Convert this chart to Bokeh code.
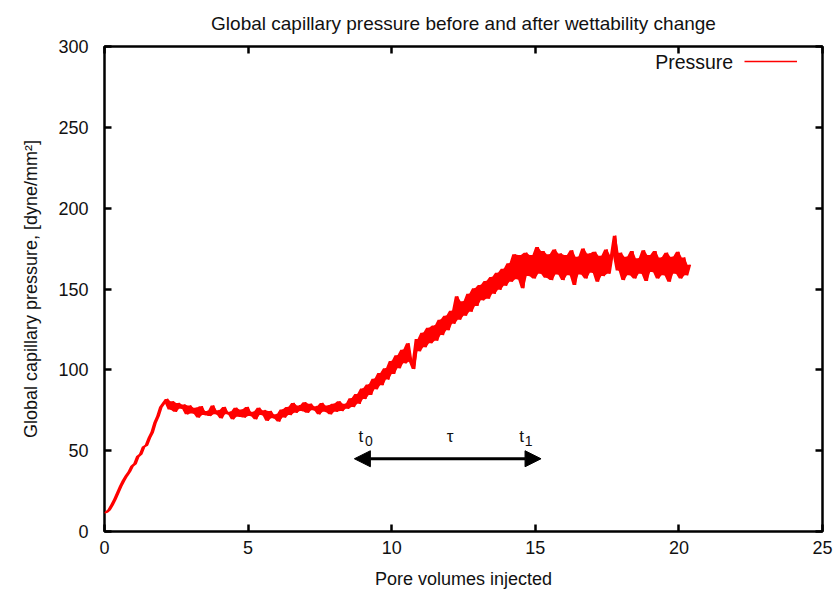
from bokeh.plotting import figure
from bokeh.models import (LinearAxis, Range1d, Arrow, NormalHead, Label, Legend,
                          LegendItem, FixedTicker, ColumnDataSource)
from bokeh.embed import file_html
from bokeh.resources import INLINE
from bokeh.core.properties import value

# ---------------- data ----------------
# global capillary pressure, sampled every 0.1 pore volume from 0.0 to 20.4
pressure = [
    11.5, 12.0, 13.5, 16.5, 20.0, 24.0, 28.0, 31.5, 34.5, 37.0,
    40.5, 42.0, 46.5, 48.0, 52.5, 53.5, 58.0, 61.5, 67.5, 71.5,
    77.0, 79.5, 82.0, 75.5, 80.5, 74.0, 79.5, 76.0, 78.5, 72.5,
    78.0, 73.0, 76.5, 70.5, 77.5, 72.0, 74.5, 71.5, 78.0, 72.5,
    75.0, 70.0, 77.0, 72.5, 74.0, 69.5, 76.5, 71.0, 75.5, 70.5,
    77.0, 71.5, 74.0, 69.5, 76.5, 72.0, 75.0, 68.5, 74.5, 70.0,
    72.5, 68.0, 75.5, 70.5, 77.0, 72.0, 79.5, 73.5, 78.0, 74.5,
    80.0, 73.5, 79.0, 75.0, 77.5, 72.5, 79.5, 74.0, 78.0, 72.5,
    79.0, 74.0, 80.5, 74.5, 79.0, 76.0, 82.5, 77.0, 85.0, 79.0,
    88.5, 82.0, 91.0, 84.5, 94.5, 88.0, 98.0, 90.5, 101.0, 94.0,
    105.5, 97.5, 109.0, 101.0, 112.5, 104.0, 116.5, 105.0, 100.5, 119.0,
    111.5, 123.0, 114.0, 126.0, 116.5, 127.5, 118.0, 131.0, 121.5, 133.5,
    124.5, 136.5, 128.5, 145.5, 131.0, 142.5, 133.5, 147.0, 136.0, 150.5,
    139.5, 152.5, 143.0, 155.0, 144.0, 157.5, 147.0, 160.0, 149.5, 162.5,
    152.0, 166.0, 154.5, 171.5, 156.0, 171.0, 150.5, 172.5, 158.0, 171.0,
    156.5, 176.0, 159.5, 173.5, 157.0, 171.5, 155.5, 174.5, 159.0, 172.0,
    155.5, 171.0, 158.5, 174.0, 152.5, 170.0, 159.0, 175.0, 156.5, 172.0,
    160.0, 173.0, 154.5, 170.5, 158.0, 174.5, 159.5, 171.0, 183.0, 161.5,
    172.5, 155.5, 170.0, 158.5, 173.5, 156.5, 169.0, 159.5, 174.0, 155.0,
    171.0, 160.5, 173.5, 156.5, 169.5, 158.5, 172.5, 154.5, 170.0, 159.5,
    173.0, 156.5, 169.5, 158.5, 165.0,
]
pore_volumes = [round(i * 0.1, 1) for i in range(len(pressure))]

x_ticks = [0, 5, 10, 15, 20, 25]
y_ticks = [0, 50, 100, 150, 200, 250, 300]

arrow_x = [8.7, 15.2]
arrow_y = 45

mark_text = ["t", "\u03c4", "t"]
mark_x = [8.93, 12.03, 14.52]
mark_y = [58.5, 58.5, 58.5]
sub_text = ["0", "1"]
sub_x = [9.21, 14.77]
sub_y = [55.8, 55.8]

legend_label = "Pressure"
legend_label_pos = (21.89, 290.7)

TITLE = "Global capillary pressure before and after wettability change"
XLABEL = "Pore volumes injected"
YLABEL = "Global capillary pressure, [dyne/mm\u00b2]"

FONT = "Liberation Sans"
TXT = "#111111"

# noise band: span between consecutive samples of the same series
n = len(pressure)
band_lo = [min(pressure[i], pressure[min(i + 1, n - 1)]) for i in range(n)]
band_hi = [max(pressure[i], pressure[min(i + 1, n - 1)]) for i in range(n)]

# ---------------- figure ----------------
p = figure(width=838, height=595, x_range=Range1d(0, 25), y_range=Range1d(0, 300),
           output_backend="svg", toolbar_location=None,
           min_border_left=104, min_border_right=16, min_border_top=46,
           min_border_bottom=64, title=TITLE)
p.title.text_font = FONT
p.title.text_font_size = "19px"
p.title.text_font_style = "normal"
p.title.align = "center"
p.title.vertical_align = "top"
p.title.standoff = 22
p.title.text_color = TXT

p.background_fill_color = "white"
p.border_fill_color = "white"
p.outline_line_color = "black"
p.outline_line_width = 2.5
p.xgrid.grid_line_color = None
p.ygrid.grid_line_color = None

def style_axis(ax, ticks, show_labels=True):
    ax.ticker = FixedTicker(ticks=ticks)
    ax.axis_line_color = None
    ax.major_tick_in = 7
    ax.major_tick_out = 0
    ax.major_tick_line_width = 2.5
    ax.major_tick_line_color = "black"
    ax.minor_tick_line_color = None
    ax.major_label_text_font = FONT
    if show_labels:
        ax.major_label_text_font_size = "18px"
        ax.major_label_text_color = TXT
    else:
        ax.major_label_text_font_size = "1px"
        ax.major_label_text_color = None
        ax.major_label_standoff = 0

style_axis(p.xaxis[0], x_ticks)
style_axis(p.yaxis[0], y_ticks)
p.xaxis[0].major_label_standoff = 9
p.yaxis[0].major_label_standoff = 16
p.xaxis[0].axis_label = XLABEL
p.yaxis[0].axis_label = YLABEL
for ax in (p.xaxis[0], p.yaxis[0]):
    ax.axis_label_text_font = FONT
    ax.axis_label_text_font_size = "18px"
    ax.axis_label_text_font_style = "normal"
    ax.axis_label_text_color = TXT
p.xaxis[0].axis_label_standoff = 12
p.yaxis[0].axis_label_standoff = 14

top_axis = LinearAxis()
style_axis(top_axis, x_ticks, show_labels=False)
p.add_layout(top_axis, "above")
right_axis = LinearAxis()
style_axis(right_axis, y_ticks, show_labels=False)
p.add_layout(right_axis, "right")

src = ColumnDataSource(data=dict(x=pore_volumes, y=pressure, lo=band_lo, hi=band_hi))
p.varea(x="x", y1="lo", y2="hi", source=src, fill_color="#ff0000")
line_r = p.line("x", "y", source=src, line_color="#ff0000", line_width=1.5)

# double-headed arrow
p.add_layout(Arrow(start=NormalHead(size=16, fill_color="black", line_color="black"),
                   end=NormalHead(size=16, fill_color="black", line_color="black"),
                   x_start=arrow_x[0], y_start=arrow_y, x_end=arrow_x[1], y_end=arrow_y,
                   line_width=3, line_color="black"))

p.text(x=mark_x, y=mark_y, text=mark_text, text_font=value(FONT), text_font_size="17px",
       text_align="center", text_baseline="alphabetic", text_color=TXT)
p.text(x=sub_x, y=sub_y, text=sub_text, text_font=value(FONT), text_font_size="14px",
       text_align="center", text_baseline="alphabetic", text_color=TXT)

# legend: text left of the sample line as in gnuplot
p.add_layout(Label(x=legend_label_pos[0], y=legend_label_pos[1], text=legend_label,
                   text_font=FONT, text_font_size="19.5px", text_align="right",
                   text_baseline="middle", text_color=TXT))
leg = Legend(items=[LegendItem(label=" ", renderers=[line_r])], location="top_right",
             margin=5, padding=0, glyph_width=53, glyph_height=20, label_standoff=20,
             label_width=0, border_line_color=None, background_fill_alpha=0,
             label_text_font_size="4px")
p.add_layout(leg)

open("out.html", "w").write(file_html(p, INLINE))
